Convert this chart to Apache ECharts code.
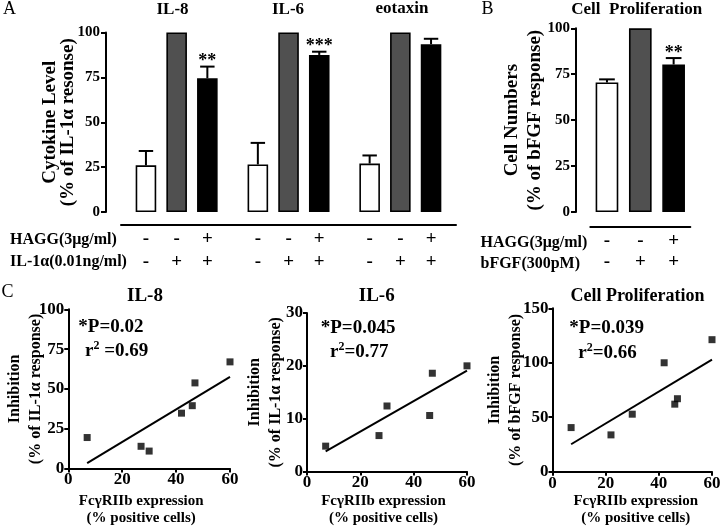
<!DOCTYPE html>
<html><head><meta charset="utf-8">
<script src="https://cdn.jsdelivr.net/npm/echarts@6/dist/echarts.min.js"></script>
<style>html,body{margin:0;padding:0;background:#fff}#c{width:720px;height:527px}</style>
</head><body><div id="c"></div>
<script>
const FONT = '"Liberation Serif", "Times New Roman", serif';

// ---------- Panel A : cytokine levels ----------
const cytokines = ['IL-8', 'IL-6', 'eotaxin'];
const signsA = ['-\n-', '-\n+', '+\n+'];          // HAGG row / IL-1α row
const il8Mean = [26, 100, 74.5];
const il8Sem = [8, 0, 6.5];
const il6Mean = [26.5, 100, 87.5];
const il6Sem = [12, 0, 1.8];
const eotaxinMean = [27, 100, 93.5];
const eotaxinSem = [4.5, 0, 3];
const il8Sig = ['', '', '**'];
const il6Sig = ['', '', '***'];
const eotaxinSig = ['', '', ''];
const rowLabelsA = ['HAGG(3μg/ml)', 'IL-1α(0.01ng/ml)'];

// ---------- Panel B : cell proliferation ----------
const titleB = 'Cell  Proliferation';
const signsB = ['-\n-', '-\n+', '+\n+'];          // HAGG row / bFGF row
const prolifMean = [70.5, 100, 80.3];
const prolifSem = [1.7, 0, 3.5];
const prolifSig = ['', '', '**'];
const rowLabelsB = ['HAGG(3μg/ml)', 'bFGF(300pM)'];

// ---------- Panel C : correlations ----------
const titlesC = ['IL-8', 'IL-6', 'Cell Proliferation'];
const fcX1 = [7, 27, 30, 42, 46, 47, 60];
const inhibIL8 = [19.5, 14, 11, 34.8, 39.5, 53.8, 67];
const fitX1 = [7, 60];
const fitIL8 = [3.5, 57.6];
const fcX2 = [7, 27, 30, 46, 47, 60];
const inhibIL6 = [4.8, 6.8, 12.4, 10.6, 18.6, 20];
const fitX2 = [7, 60];
const fitIL6 = [3.8, 19.1];
const fcX3 = [7, 22, 30, 42, 46, 47, 60];
const inhibProlif = [40.5, 33.8, 52.8, 100, 62, 67, 121.2];
const fitX3 = [7, 60];
const fitProlif = [25.2, 102.8];
const statP = ['*P=0.02', '*P=0.045', '*P=0.039'];
const statR2 = [' =0.69', '=0.77', '=0.66'];

// ---------- styles ----------
const barColors = ['#ffffff', '#505050', '#000000'];
const black = '#000';
const axLine = {show: true, onZero: false, lineStyle: {color: black, width: 2}};
const axTick = {show: true, inside: false, length: 5, lineStyle: {color: black, width: 2}};
const noSplit = {show: false};

function barSeries(gi, means) {
  return {
    type: 'bar', xAxisIndex: gi, yAxisIndex: gi, barWidth: '67%',
    data: means.map((v, i) => ({value: v, itemStyle: {color: barColors[i], borderColor: black, borderWidth: 1.6}})),
    z: 2
  };
}
function errSeries(gi, means, sems, sigs) {
  return {
    type: 'custom', xAxisIndex: gi, yAxisIndex: gi, z: 3,
    encode: {x: 0, y: [1, 2]},
    data: means.map((v, i) => [i, v, v + sems[i]]),
    renderItem: function (params, api) {
      const x = api.value(0), v = api.value(1), top = api.value(2);
      const p0 = api.coord([x, v]);
      const p1 = api.coord([x, top]);
      const bw = api.size([1, 0])[0] * 0.47;
      const ch = [];
      if (top > v) {
        ch.push({type: 'line', shape: {x1: p0[0], y1: p0[1], x2: p1[0], y2: p1[1]}, style: {stroke: black, lineWidth: 2}});
        ch.push({type: 'line', shape: {x1: p1[0] - bw / 2, y1: p1[1], x2: p1[0] + bw / 2, y2: p1[1]}, style: {stroke: black, lineWidth: 2}});
      }
      const s = sigs[params.dataIndex];
      if (s) ch.push({type: 'text', style: {text: s, x: p1[0], y: p1[1] - 5, align: 'center', verticalAlign: 'middle', textAlign: 'center', textVerticalAlign: 'middle', font: 'bold 18px ' + FONT, fill: black}});
      return {type: 'group', children: ch};
    }
  };
}

function txt(text, x, y, size, weight, align) {
  return {type: 'text', x: x, y: y, silent: true,
    style: {text: text, font: (weight || 'bold') + ' ' + size + 'px ' + FONT, fill: black,
      align: align || 'left', verticalAlign: 'middle', textAlign: align || 'left', textVerticalAlign: 'middle'}};
}
function r2txt(val, x, y) {
  return {type: 'text', x: x, y: y, silent: true,
    style: {text: '{m|r}{s|2}{m|' + val + '}', align: 'left', verticalAlign: 'middle', textAlign: 'left', textVerticalAlign: 'middle',
      rich: {
        m: {fontFamily: FONT, fontWeight: 'bold', fontSize: 19, lineHeight: 22, fill: black, color: black},
        s: {fontFamily: FONT, fontWeight: 'bold', fontSize: 12, lineHeight: 12, verticalAlign: 'top', fill: black, color: black}
      }}};
}

const gridBase = {outerBoundsMode: 'none', containLabel: false};
const grids = [
  Object.assign({left: 121, top: 32.5, width: 335, height: 179.5}, gridBase),      // 0 A axis host
  Object.assign({left: 130.6, top: 32.5, width: 92.1, height: 179.5}, gridBase),   // 1 IL-8
  Object.assign({left: 242.5, top: 32.5, width: 92.1, height: 179.5}, gridBase),   // 2 IL-6
  Object.assign({left: 354.3, top: 32.5, width: 92.1, height: 179.5}, gridBase),   // 3 eotaxin
  Object.assign({left: 590.3, top: 28.3, width: 100, height: 183.7}, gridBase),    // 4 B
  Object.assign({left: 68.3, top: 309.3, width: 161.7, height: 159.3}, gridBase),  // 5 C1
  Object.assign({left: 307, top: 313, width: 160, height: 158.5}, gridBase),       // 6 C2
  Object.assign({left: 552.5, top: 308.3, width: 159.5, height: 163.4}, gridBase)  // 7 C3
];

const signLabel = (margin, lh) => ({show: true, interval: 0, margin: margin, fontFamily: FONT, fontWeight: 'bold', fontSize: 19, lineHeight: lh, color: black});
const tickLabel = (size, margin) => ({show: true, margin: margin, fontFamily: FONT, fontWeight: 'bold', fontSize: size, color: black});

const xAxes = [
  {gridIndex: 0, type: 'value', min: 0, max: 1, offset: 13, axisLine: axLine, axisTick: {show: false}, axisLabel: {show: false}, splitLine: noSplit},
  {gridIndex: 1, type: 'category', data: signsA, axisLine: {show: false}, axisTick: {show: false}, axisLabel: signLabel(16, 22.5), splitLine: noSplit},
  {gridIndex: 2, type: 'category', data: signsA, axisLine: {show: false}, axisTick: {show: false}, axisLabel: signLabel(16, 22.5), splitLine: noSplit},
  {gridIndex: 3, type: 'category', data: signsA, axisLine: {show: false}, axisTick: {show: false}, axisLabel: signLabel(16, 22.5), splitLine: noSplit},
  {gridIndex: 4, type: 'category', data: signsB, offset: 15, axisLine: axLine, axisTick: {show: false}, axisLabel: signLabel(4, 21), splitLine: noSplit},
];
const cName = 'FcγRIIb expression\n(% positive cells)';
const cNamePad = [[0, 16, 0, 0], [0, 7, 0, 0], [0, 0, 0, 7]];
[5, 6, 7].forEach((gi, k) => {
  xAxes.push({gridIndex: gi, type: 'value', min: 0, max: 60, interval: 20, axisLine: axLine,
    axisTick: Object.assign({}, axTick, {length: 4}), axisLabel: tickLabel(17, 3), splitLine: noSplit,
    name: cName, nameLocation: 'middle', nameGap: [24, 21, 21][k], nameMoveOverlap: false,
    nameTextStyle: {fontFamily: FONT, fontWeight: 'bold', fontSize: 15, lineHeight: 17, color: black, padding: cNamePad[k]}});
});

const yNameStyle = (lh) => ({fontFamily: FONT, fontWeight: 'bold', fontSize: 19, lineHeight: lh, color: black});
const yAxes = [
  {gridIndex: 0, type: 'value', min: 0, max: 100, interval: 25, offset: 15, axisLine: axLine, axisTick: axTick,
    axisLabel: tickLabel(15, 6), splitLine: noSplit, nameMoveOverlap: false,
    name: 'Cytokine Level\n(% of IL-1α resonse)', nameLocation: 'middle', nameRotate: 90, nameGap: 29, nameTextStyle: yNameStyle(18)},
  {gridIndex: 1, type: 'value', min: 0, max: 100, show: false},
  {gridIndex: 2, type: 'value', min: 0, max: 100, show: false},
  {gridIndex: 3, type: 'value', min: 0, max: 100, show: false},
  {gridIndex: 4, type: 'value', min: 0, max: 100, interval: 25, offset: 14.3, axisLine: axLine, axisTick: axTick,
    axisLabel: tickLabel(15, 6), splitLine: noSplit, nameMoveOverlap: false,
    name: 'Cell Numbers\n(% of bFGF response)', nameLocation: 'middle', nameRotate: 90, nameGap: 29, nameTextStyle: yNameStyle(23)},
];
const cYNames = ['Inhibition\n(% of IL-1α response)', 'Inhibition\n(% of IL-1α response)', 'Inhibition\n(% of bFGF response)'];
const cYMax = [100, 30, 150];
const cYInt = [25, 10, 50];
const cYGap = [22, 20.5, 26];
[5, 6, 7].forEach((gi, k) => {
  yAxes.push({gridIndex: gi, type: 'value', min: 0, max: cYMax[k], interval: cYInt[k], axisLine: axLine,
    axisTick: Object.assign({}, axTick, {length: 4}), axisLabel: tickLabel(17, 4), splitLine: noSplit,
    name: cYNames[k], nameLocation: 'middle', nameRotate: 90, nameGap: cYGap[k], nameMoveOverlap: false,
    nameTextStyle: {fontFamily: FONT, fontWeight: 'bold', fontSize: 16, lineHeight: 21, color: black}});
});

function scatter(gi, xs, ys) {
  return {type: 'scatter', xAxisIndex: gi, yAxisIndex: gi, symbol: 'rect', symbolSize: 7,
    itemStyle: {color: black}, data: xs.map((x, i) => [x, ys[i]]), z: 3};
}
function fit(gi, xs, ys) {
  return {type: 'line', xAxisIndex: gi, yAxisIndex: gi, symbol: 'none', lineStyle: {color: black, width: 2},
    data: xs.map((x, i) => [x, ys[i]]), z: 2};
}

const series = [
  barSeries(1, il8Mean), errSeries(1, il8Mean, il8Sem, il8Sig),
  barSeries(2, il6Mean), errSeries(2, il6Mean, il6Sem, il6Sig),
  barSeries(3, eotaxinMean), errSeries(3, eotaxinMean, eotaxinSem, eotaxinSig),
  Object.assign(barSeries(4, prolifMean), {barWidth: '68%'}), errSeries(4, prolifMean, prolifSem, prolifSig),
  fit(5, fitX1, fitIL8), scatter(5, fcX1, inhibIL8),
  fit(6, fitX2, fitIL6), scatter(6, fcX2, inhibIL6),
  fit(7, fitX3, fitProlif), scatter(7, fcX3, inhibProlif),
];

const graphics = [
  txt('A', 3, 9, 18, 'normal'), txt('B', 481.5, 9, 18, 'normal'), txt('C', 1.5, 292, 18, 'normal'),
  txt(cytokines[0], 172.5, 9.5, 17, 'bold', 'center'),
  txt(cytokines[1], 288, 9.5, 17, 'bold', 'center'),
  txt(cytokines[2], 402, 9, 17, 'bold', 'center'),
  txt(titleB, 636.7, 9.5, 17, 'bold', 'center'),
  txt(rowLabelsA[0], 10, 239.5, 16), txt(rowLabelsA[1], 10, 262, 16),
  txt(rowLabelsB[0], 480.5, 242.5, 16), txt(rowLabelsB[1], 480.5, 263.5, 16),
  txt(titlesC[0], 145, 296.5, 19, 'bold', 'center'),
  txt(titlesC[1], 376.7, 296.5, 19, 'bold', 'center'),
  txt(titlesC[2], 637.5, 296.5, 18, 'bold', 'center'),
  txt(statP[0], 78.3, 327.5, 19), r2txt(statR2[0], 85, 351),
  txt(statP[1], 320.7, 328.5, 19), r2txt(statR2[1], 330, 352),
  txt(statP[2], 569.3, 328.5, 19), r2txt(statR2[2], 578.3, 353),
];

const chart = echarts.init(document.getElementById('c'), null, {renderer: 'canvas'});
chart.setOption({
  animation: false,
  backgroundColor: '#fff',
  grid: grids, xAxis: xAxes, yAxis: yAxes, series: series,
  graphic: {elements: graphics}
});
</script></body></html>
